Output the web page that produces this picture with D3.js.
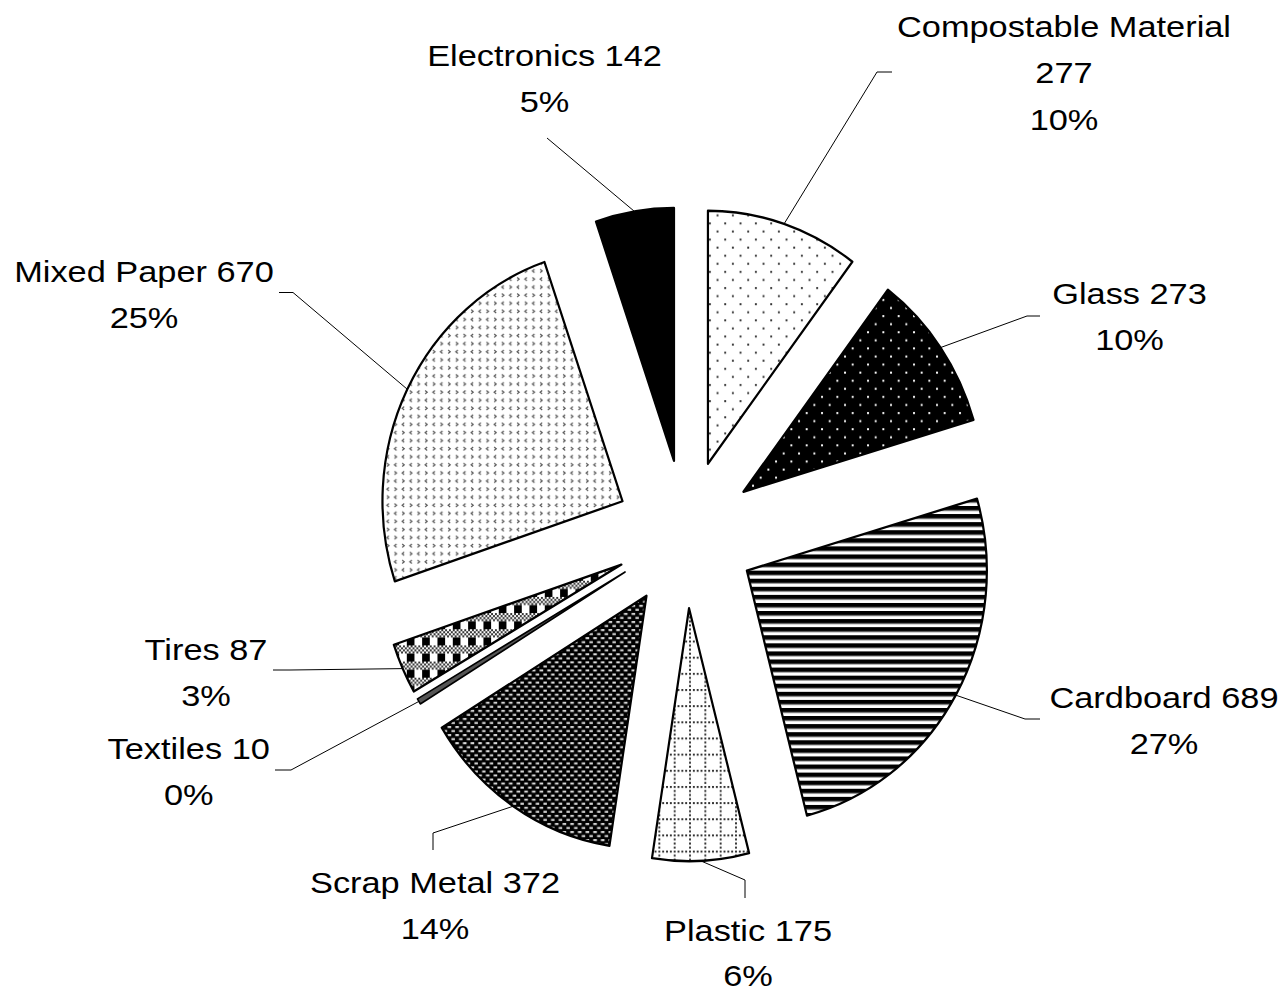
<!DOCTYPE html>
<html>
<head>
<meta charset="utf-8">
<script src="https://cdn.jsdelivr.net/npm/d3@7"></script>
<style>
html,body{margin:0;padding:0;background:#fff;}
svg{display:block;}
text{font-family:"Liberation Sans",Arial,Helvetica,sans-serif;}
</style>
</head>
<body>
<svg id="chart" width="1287" height="993"></svg>
<script>
// ---- data ----
const categories = ["Compostable Material","Glass","Cardboard","Plastic","Scrap Metal","Textiles","Tires","Mixed Paper","Electronics"];
const values = [277,273,689,175,372,10,87,670,142];
const percentLabels = ["10%","10%","27%","6%","14%","0%","3%","25%","5%"];

// ---- layout (positions only) ----
const W = 1287, H = 993;
const cx = 685.6, cy = 534.1, R = 240, yStretch = 1.054, explode = 70.4;
const fontSize = 30, lineH = 46.5, textStretch = 1.145;
// label block: center x, first baseline, whether name and value are split on two lines
const labelLayout = [
  {x:1064, y:37, split:true},
  {x:1129.5, y:304, split:false},
  {x:1164, y:708, split:false},
  {x:748, y:941, split:false},
  {x:435, y:893, split:false},
  {x:188.7, y:759, split:false},
  {x:206, y:660, split:false},
  {x:144, y:282, split:false},
  {x:544.5, y:66, split:false}
];
// leader line: label-side end and elbow
const leaderLayout = [
  {end:[892,72], elbow:[877,72]},
  {end:[1040,316], elbow:[1027,316]},
  {end:[1040,719], elbow:[1025,719]},
  {end:[745,898], elbow:[745,880]},
  {end:[433,850], elbow:[433,833]},
  {end:[275,770], elbow:[291,770]},
  {end:[273,670], elbow:[290,670]},
  {end:[279,292.5], elbow:[293,292.5]},
  {end:[547,138], elbow:[547,138]}
];

const svg = d3.select("#chart");
const defs = svg.append("defs");
const T = 15.33, u = T/8;

function pat(id, w, h){
  return defs.append("pattern").attr("id", id).attr("patternUnits","userSpaceOnUse")
    .attr("width", w).attr("height", h);
}
// 0 Compostable: white with sparse dark dots
{ const p = pat("p0", T, T);
  p.append("rect").attr("width",T).attr("height",T).attr("fill","#fff");
  [[1,1],[1+T/2,1+T/2]].forEach(([x,y])=>p.append("rect").attr("x",x).attr("y",y).attr("width",1.9).attr("height",1.9).attr("fill","#333"));
}
// 1 Glass: black with white dots
{ const p = pat("p1", T, T);
  p.append("rect").attr("width",T).attr("height",T).attr("fill","#000");
  [[1,1],[1+T/2,1+T/2]].forEach(([x,y])=>p.append("rect").attr("x",x).attr("y",y).attr("width",1.9).attr("height",1.9).attr("fill","#fff"));
}
// 2 Cardboard: horizontal stripes
{ const p = pat("p2", T, T/2);
  p.append("rect").attr("width",T).attr("height",T/2).attr("fill","#fff");
  p.append("rect").attr("y",0).attr("width",T).attr("height",T/4+0.3).attr("fill","#000");
  p.append("rect").attr("y",T/4+0.3).attr("width",T).attr("height",0.8).attr("fill","#999");
}
// 3 Plastic: dotted grid
{ const p = pat("p3", T, T);
  p.append("rect").attr("width",T).attr("height",T).attr("fill","#fff");
  for(let i=0;i<4;i++){
    p.append("rect").attr("x",i*2*u).attr("y",0).attr("width",u).attr("height",u).attr("fill","#333");
    if(i>0) p.append("rect").attr("x",0).attr("y",i*2*u).attr("width",u).attr("height",u).attr("fill","#333");
  }
}
// 4 Scrap Metal: black with light dashes
{ const p = pat("p4", T/2, T/2);
  p.append("rect").attr("width",T/2).attr("height",T/2).attr("fill","#000");
  p.append("rect").attr("x",0.4).attr("y",0.9).attr("width",3.6).attr("height",1.9).attr("fill","#ddd");
  p.append("rect").attr("x",0.4+T/4).attr("y",0.9+T/4).attr("width",3.6).attr("height",1.9).attr("fill","#ddd");
}
// 5 Textiles: dark gray
{ const p = pat("p5", 4, 4);
  p.append("rect").attr("width",4).attr("height",4).attr("fill","#555");
}
// 6 Tires: plaid
{ const p = pat("p6", T, T);
  p.append("rect").attr("width",T).attr("height",T).attr("fill","#fff");
  for(let i=0;i<8;i++) for(let j=0;j<4;j++){
    if((i+j)%2===0) p.append("rect").attr("x",i*u).attr("y",j*u).attr("width",u).attr("height",u).attr("fill","#333");
  }
  p.append("rect").attr("x",0).attr("y",T/2).attr("width",T/2).attr("height",T/2).attr("fill","#000");
}
// 7 Mixed Paper: gray chevrons
{ const p = pat("p7", T, T);
  p.append("rect").attr("width",T).attr("height",T).attr("fill","#fff");
  const chev = (x,y,dir)=> dir>0
    ? `M${x},${y-1.6}L${x+2},${y}L${x},${y+1.6}`
    : `M${x+2},${y-1.6}L${x},${y}L${x+2},${y+1.6}`;
  [[2,3.8,1],[9.7,3.8,-1],[2,11.5,-1],[9.7,11.5,1]].forEach(([x,y,d])=>
    p.append("path").attr("d",chev(x,y,d)).attr("fill","none").attr("stroke","#555").attr("stroke-width",1.2));
}
// 8 Electronics: solid black
{ const p = pat("p8", 4, 4);
  p.append("rect").attr("width",4).attr("height",4).attr("fill","#000");
}

// ---- pie ----
const pie = d3.pie().sort(null).value(d=>d)(values);
const arc = d3.arc().innerRadius(0).outerRadius(R);

const g = svg.append("g").attr("transform",`translate(${cx},${cy}) scale(1,${yStretch})`);
pie.forEach((a,i)=>{
  const mid = (a.startAngle + a.endAngle)/2;
  const ox = explode*Math.sin(mid), oy = -explode*Math.cos(mid);
  g.append("path")
    .attr("transform",`translate(${ox},${oy})`)
    .attr("d", arc(a))
    .attr("fill", `url(#p${i})`)
    .attr("stroke","#000")
    .attr("stroke-width", i===5 ? 1.6 : 2.2)
    .attr("stroke-linejoin","round");
});

// ---- leader lines ----
pie.forEach((a,i)=>{
  const mid = (a.startAngle + a.endAngle)/2;
  const r = explode + R;
  const ax = cx + r*Math.sin(mid), ay = cy - yStretch*r*Math.cos(mid);
  const L = leaderLayout[i];
  svg.append("path")
    .attr("d", d3.line()([[ax,ay], L.elbow, L.end]))
    .attr("fill","none").attr("stroke","#000").attr("stroke-width",1);
});

// ---- labels ----
categories.forEach((c,i)=>{
  const L = labelLayout[i];
  const lines = L.split ? [c, String(values[i]), percentLabels[i]]
                        : [c + " " + values[i], percentLabels[i]];
  const lg = svg.append("g").attr("transform",`translate(${L.x},0) scale(${textStretch},1)`);
  const t = lg.append("text").attr("text-anchor","middle").attr("font-size",fontSize).attr("fill","#000");
  lines.forEach((s,j)=>t.append("tspan").attr("x",0).attr("y",L.y + j*(j===lines.length-1 && i===3 ? 45 : lineH)).text(s));
});
</script>
</body>
</html>
